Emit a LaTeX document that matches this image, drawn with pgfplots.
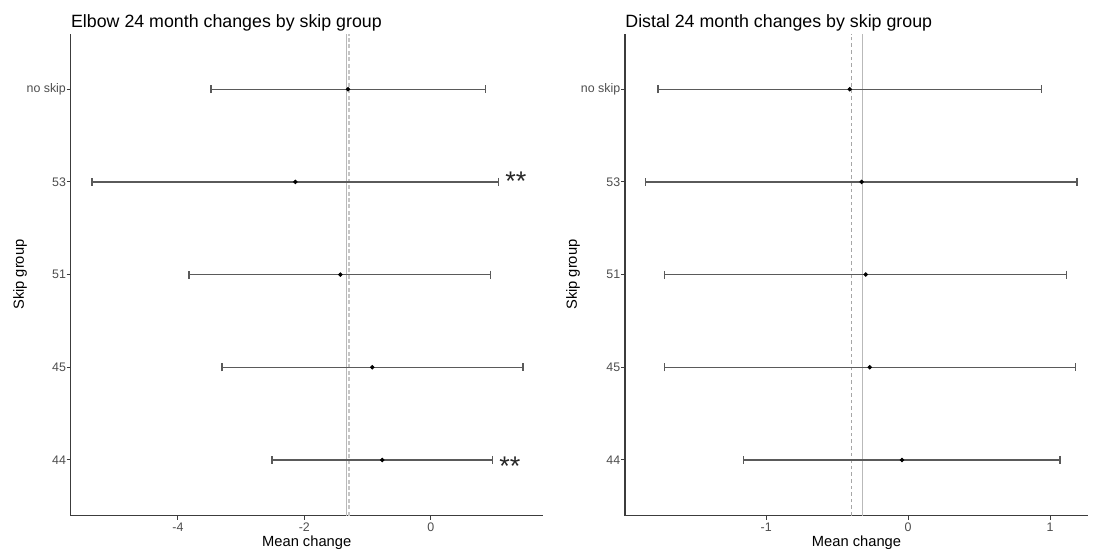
\documentclass[border=0pt]{standalone}
\usepackage{fontspec}
\setmainfont{Liberation Sans}
\usepackage{pgfplots}
\usepackage{pgfplotstable}
\pgfplotsset{compat=1.18}
\definecolor{barc}{RGB}{90,90,90}
\definecolor{tickc}{RGB}{77,77,77}
\definecolor{axc}{RGB}{60,60,60}

\pgfplotstableread{
y m lo hi
1 -0.766 -2.511 0.981
2 -0.924 -3.302 1.460
3 -1.430 -3.824 0.949
4 -2.142 -5.359 1.070
5 -1.309 -3.476 0.870
}\elbow
\pgfplotstableread{
y m lo hi
1 -0.044 -1.159 1.069
2 -0.271 -1.718 1.177
3 -0.299 -1.715 1.114
4 -0.328 -1.849 1.189
5 -0.412 -1.763 0.940
}\distal

\pgfplotsset{
  mystyle/.style={
    scale only axis, height=241pt, ymin=0.4, ymax=5.6,
    axis lines=left, axis line style={-, axc, line width=0.6pt},
    ytick={1,2,3,4,5}, yticklabels={44,45,51,53,no skip},
    tick align=outside, major tick length=2pt,
    tick style={axc, line width=0.5pt},
    /pgf/number format/assume math mode=true,
    ticklabel style={font=\fontsize{6.2}{7}\selectfont, text=tickc},
    xticklabel style={inner sep=0pt, anchor=north, yshift=-1.4pt},
    yticklabel style={inner sep=0pt, anchor=east, xshift=-0.2pt},
    title style={at={(axis description cs:0,1)}, anchor=base west, yshift=-2.8pt, inner sep=0pt, font=\fontsize{8.9}{10}\selectfont},
    xlabel style={at={(axis description cs:0.5,0)}, anchor=base, yshift=-15.4pt, inner sep=0pt, font=\fontsize{7.35}{9}\selectfont},
    ylabel style={anchor=center, inner sep=0pt, font=\fontsize{7.35}{9}\selectfont},
    xlabel={Mean change}, ylabel={Skip group},
    clip=false,
  },
  ebar/.style={only marks, mark=*, mark size=0.9pt, black,
    error bars/.cd, x dir=both, x explicit, error mark=|,
    error bar style={barc, line width=0.7pt},
    error mark options={barc, line width=0.6pt, mark size=2pt}},
}

\begin{document}
\begin{tikzpicture}
\useasboundingbox (0,0) rectangle (547.5pt,-275.5pt);
\begin{axis}[mystyle, at={(35.35pt,-257.8pt)}, anchor=south west, width=236pt,
  xmin=-5.696, xmax=1.772, xtick={-4,-2,0},
  title={Elbow 24 month changes by skip group},
  ylabel style={at={(axis description cs:-0.1074,0.5)}}]
\addplot[gray!55, line width=0.7pt] coordinates {(-1.329,0.4) (-1.329,5.6)};
\addplot[gray!45, line width=0.8pt, dash pattern=on 2pt off 1.2pt] coordinates {(-1.297,0.4) (-1.297,5.6)};
\addplot[ebar] table[x=m, y=y, x error plus expr=\thisrow{hi}-\thisrow{m}, x error minus expr=\thisrow{m}-\thisrow{lo}] {\elbow};
\node[anchor=base west, inner sep=0pt, font=\fontsize{13.5}{15}\selectfont, text=black!85] at (axis cs:1.176,3.907) {**};
\node[anchor=base west, inner sep=0pt, font=\fontsize{13.5}{15}\selectfont, text=black!85] at (axis cs:1.081,0.833) {**};
\end{axis}
\begin{axis}[mystyle, at={(312.5pt,-257.8pt)}, anchor=south west, width=231.5pt,
  xmin=-1.995, xmax=1.267, xtick={-1,0,1},
  title={Distal 24 month changes by skip group},
  ylabel style={at={(axis description cs:-0.1123,0.5)}}]
\addplot[gray!55, line width=0.7pt] coordinates {(-0.321,0.4) (-0.321,5.6)};
\addplot[gray!70, line width=0.45pt, dash pattern=on 1.8pt off 1.5pt] coordinates {(-0.401,0.4) (-0.401,5.6)};
\addplot[ebar] table[x=m, y=y, x error plus expr=\thisrow{hi}-\thisrow{m}, x error minus expr=\thisrow{m}-\thisrow{lo}] {\distal};
\end{axis}
\end{tikzpicture}
\end{document}
